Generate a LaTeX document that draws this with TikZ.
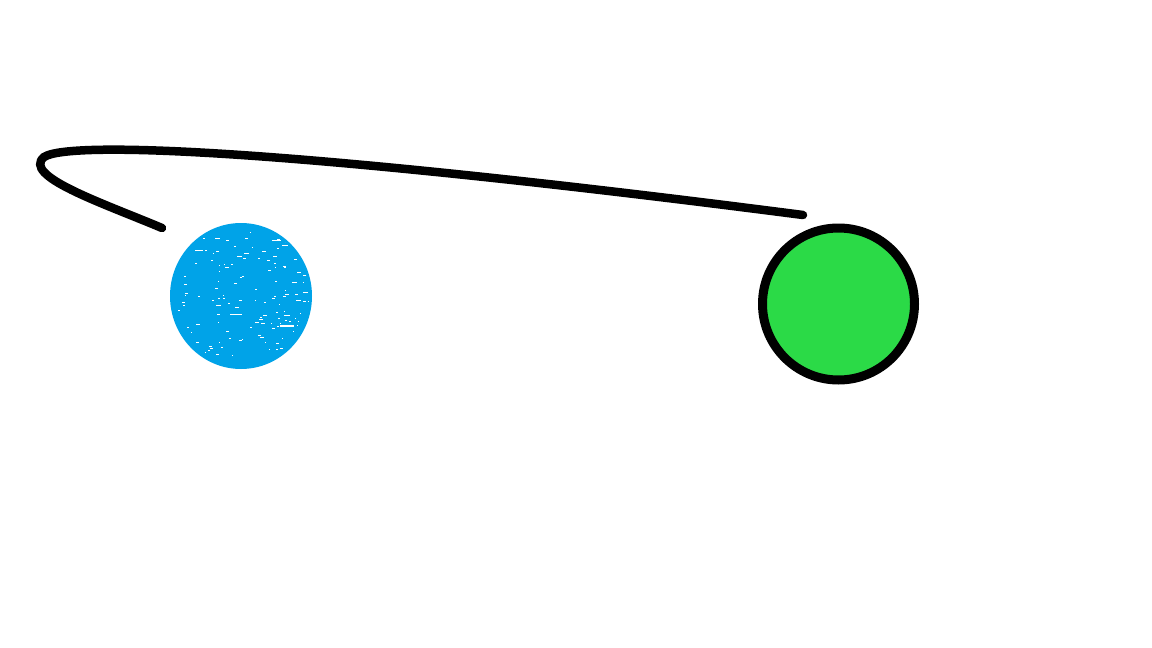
\documentclass[tikz,border=0pt]{standalone}
\usetikzlibrary{shapes.geometric}
\definecolor{skyblue}{HTML}{00A3E8}
\definecolor{brightgreen}{HTML}{2BDA47}
\begin{document}
\begin{tikzpicture}[x=1pt,y=-1pt,
  stroke/.style={line width=8.5pt,line cap=round,black},
  ball/.style={ellipse,fill=skyblue,inner sep=0pt},
  ring/.style={circle,fill=brightgreen,draw=black,line width=9pt,inner sep=0pt},
  speck/.style={fill=white}]
\useasboundingbox[fill=white] (0,0) rectangle (1152,648);
\node[ball,minimum width=142pt,minimum height=146pt] (blue) at (241,296) {};
\begin{scope}
  \clip (241,296) ellipse [x radius=68pt, y radius=70pt];
  \pgfmathsetseed{4711}
  \foreach \i in {1,...,170}{
    \pgfmathsetmacro{\px}{171+140*rnd}
    \pgfmathsetmacro{\py}{228+136*rnd}
    \pgfmathsetmacro{\pw}{1+5*rnd*rnd}
    \fill[speck] (\px,\py) rectangle ++(\pw,1);
  }
  \fill[speck] (280,325) rectangle ++(14,1.5);
  \fill[speck] (230,314) rectangle ++(12,1.2);
  \fill[speck] (195,250) rectangle ++(8,1.2);
  \fill[speck] (272,240) rectangle ++(9,1.2);
\end{scope}
\node[ring,minimum size=152pt] (green) at (838.5,304) {};
\coordinate (s) at (162,228);
\coordinate (e) at (803,215);
\draw[stroke] (s) .. controls (100,202) and (22,176) .. (44,157)
  .. controls (70,140) and (300,150) .. (e);
\end{tikzpicture}
\end{document}
